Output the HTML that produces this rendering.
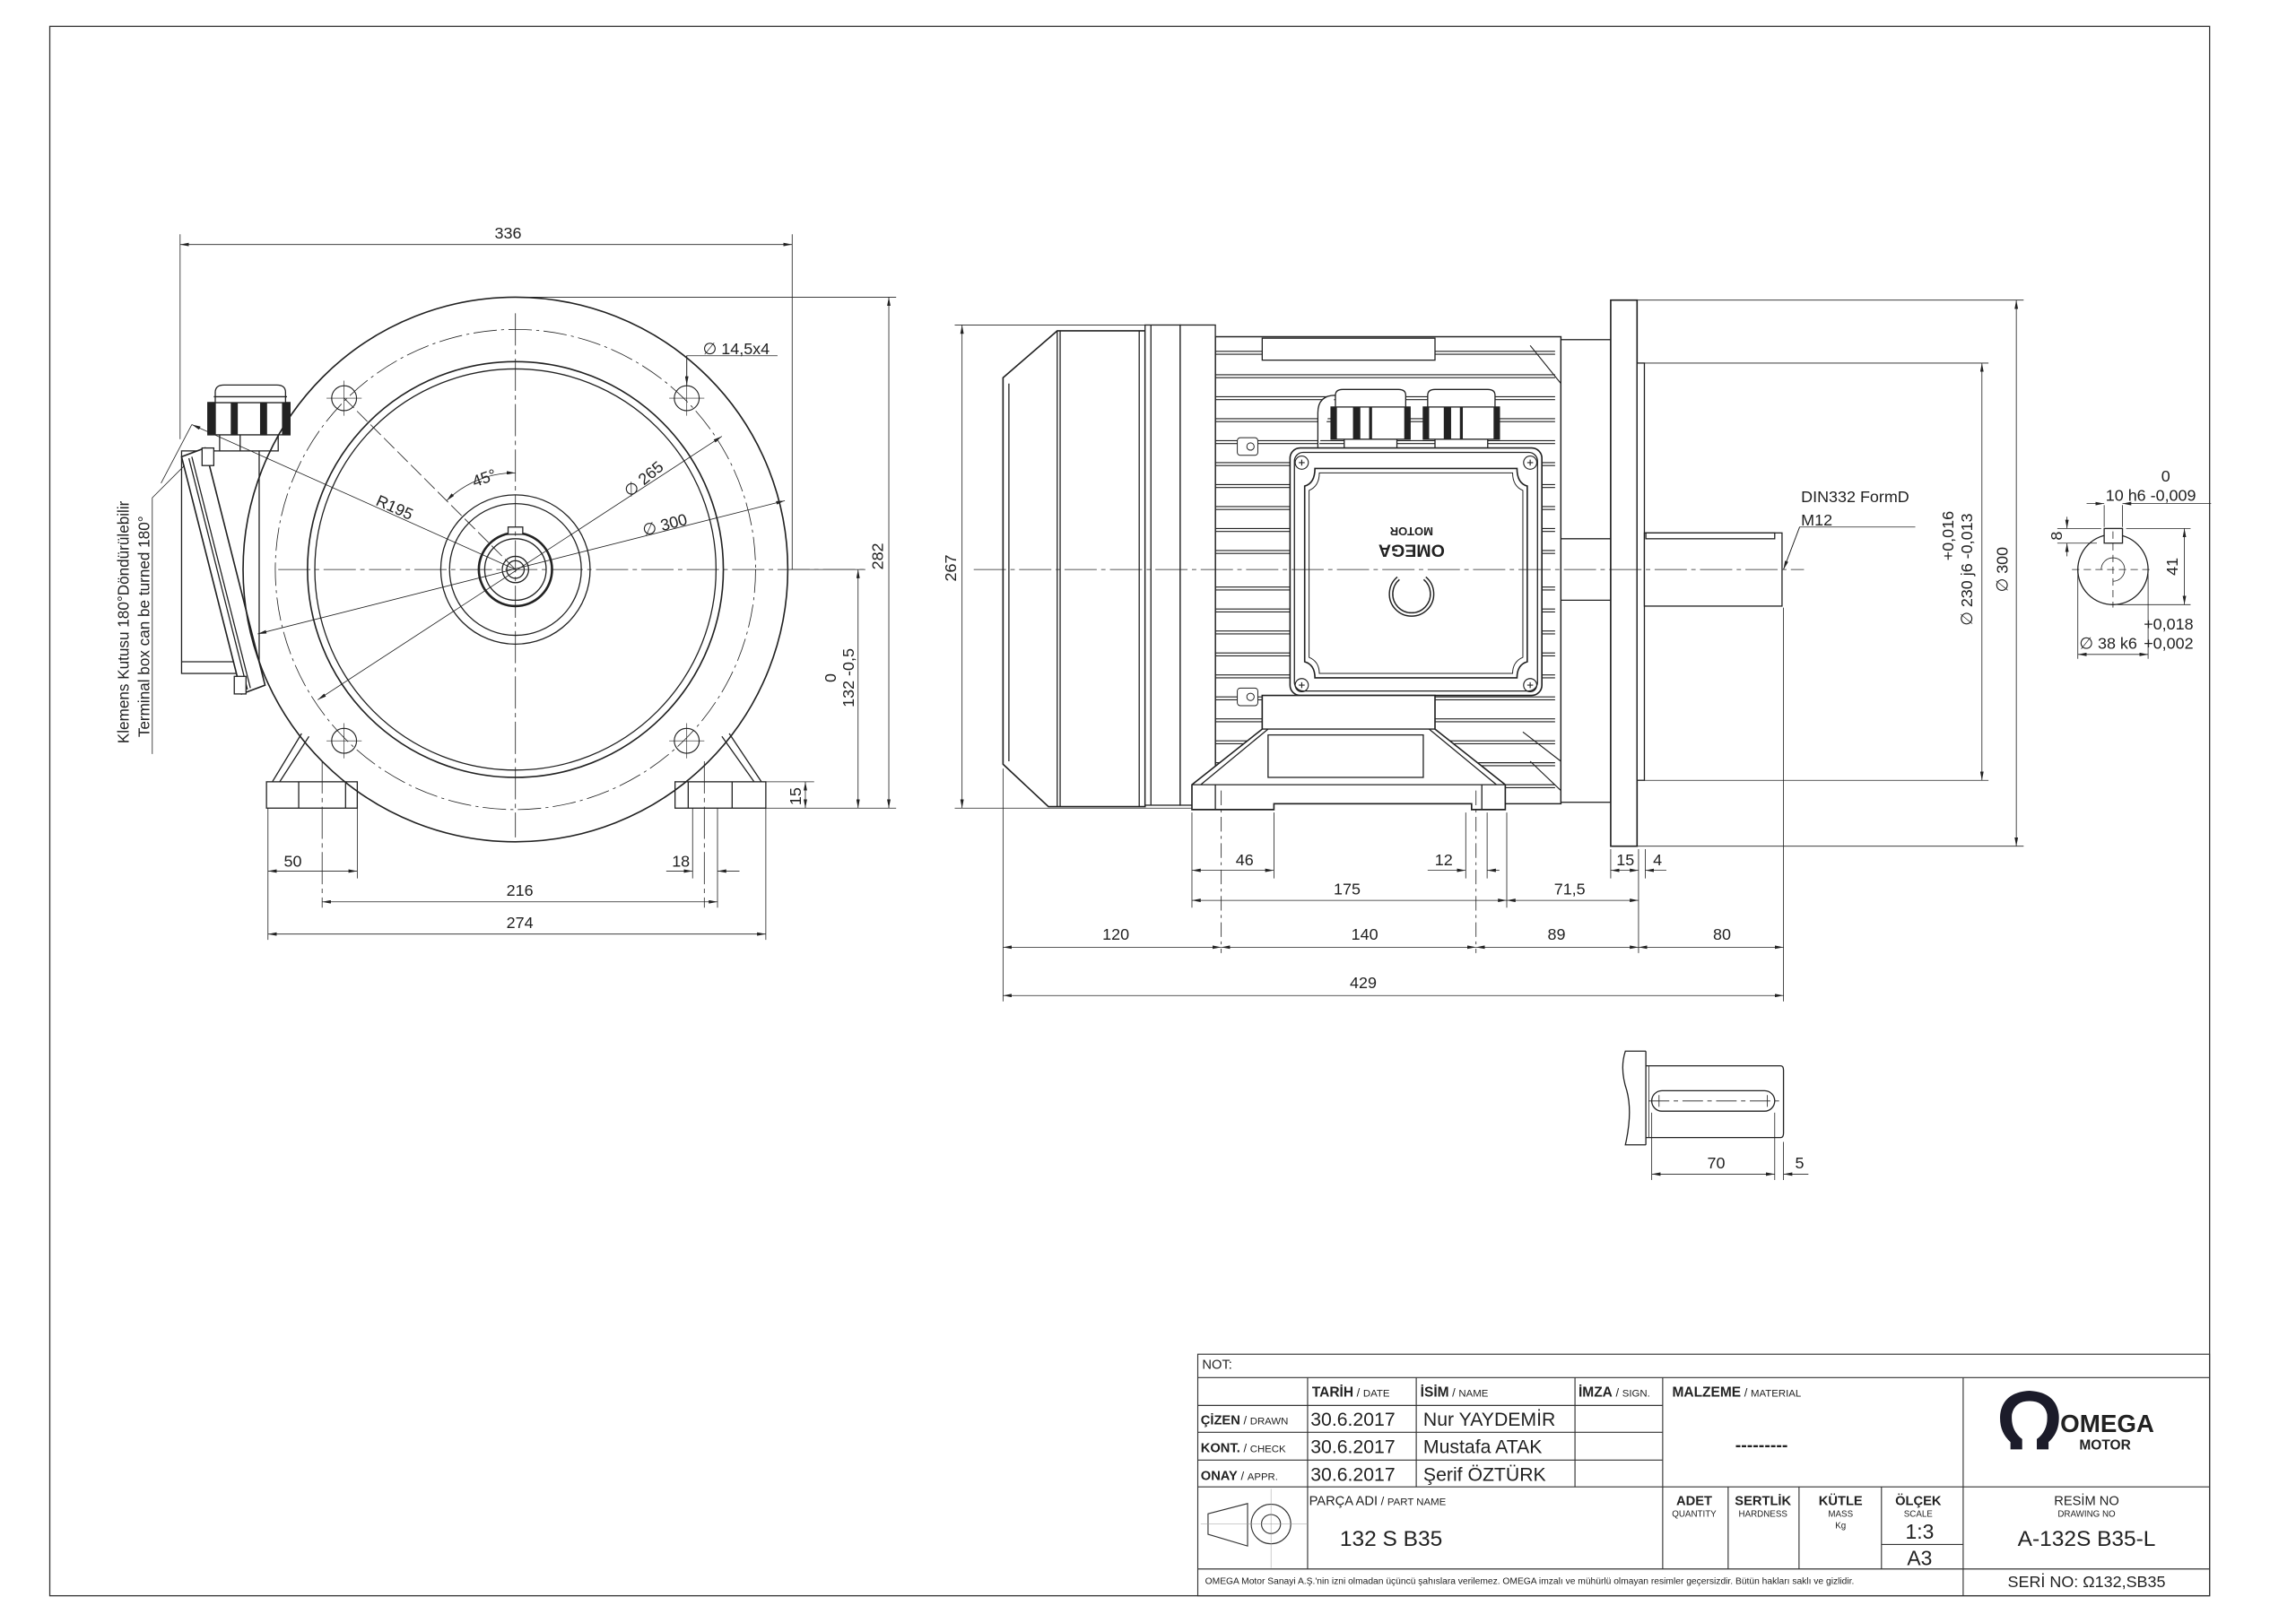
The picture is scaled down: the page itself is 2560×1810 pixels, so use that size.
<!DOCTYPE html>
<html><head><meta charset="utf-8">
<style>
html,body{margin:0;padding:0;background:#fff;}
svg{display:block;}
text{font-family:"Liberation Sans",sans-serif;fill:#222;}
.n{font-family:"Liberation Sans Narrow","Liberation Sans",sans-serif;}
</style></head><body>
<svg width="2560" height="1810" viewBox="0 0 1568 1108.6" preserveAspectRatio="none" xmlns="http://www.w3.org/2000/svg">
<defs>
<marker id="a" viewBox="0 0 10 4" refX="10" refY="2" markerWidth="6" markerHeight="2.4" markerUnits="userSpaceOnUse" orient="auto-start-reverse"><path d="M0,0L10,2L0,4z" fill="#222"/></marker>
</defs>
<rect x="0" y="0" width="1568" height="1108.6" fill="#fff"/>
<rect x="34" y="18" width="1475" height="1072" fill="none" stroke="#333" stroke-width="0.8"/>

<!-- ================= FRONT VIEW ================= -->
<g stroke="#222" fill="none" stroke-width="0.8">
 <path d="M206,501 L186,534" /><path d="M211,503 L191,534"/>
 <rect x="182" y="534" width="62" height="18" fill="#fff"/>
 <line x1="204" y1="534" x2="204" y2="552"/><line x1="236" y1="534" x2="236" y2="552"/>
 <path d="M498,501 L520,534"/><path d="M493,503 L515,534"/>
 <rect x="461" y="534" width="62" height="18" fill="#fff"/>
 <line x1="470" y1="534" x2="470" y2="552"/><line x1="500" y1="534" x2="500" y2="552"/>
 <rect x="124" y="308" width="53" height="152" fill="#fff"/>
 <line x1="124" y1="452" x2="168" y2="452"/>
 <rect x="150" y="297" width="40" height="11" fill="#fff"/>
 <line x1="164" y1="297" x2="164" y2="308"/>
 <rect x="142" y="275" width="56" height="22" fill="#fff"/>
 <rect x="142" y="275" width="5" height="22" fill="#222"/><rect x="193" y="275" width="5" height="22" fill="#222"/>
 <rect x="158" y="275" width="4" height="22" fill="#222"/><rect x="178" y="275" width="4" height="22" fill="#222"/>
 <path d="M147,275 L147,268 Q147,263 153,263 L189,263 Q195,263 195,268 L195,275 Z" fill="#fff"/>
 <line x1="146" y1="271" x2="196" y2="271"/>
 <polygon points="124,312 140,306 181,468 165,474" fill="#fff" stroke-width="1"/>
 <line x1="129" y1="313" x2="169" y2="471"/><line x1="131" y1="312" x2="171" y2="470"/>
 <rect x="138" y="306" width="8" height="12" fill="#fff"/><rect x="160" y="462" width="8" height="12" fill="#fff"/>
 <circle cx="352" cy="389" r="186" stroke-width="1"/>
 <circle cx="352" cy="389" r="164" stroke-width="0.5" stroke-dasharray="16 3 2 3"/>
 <circle cx="352" cy="389" r="142" stroke-width="1"/>
 <circle cx="352" cy="389" r="137"/>
 <circle cx="352" cy="389" r="51"/>
 <circle cx="352" cy="389" r="45"/>
 <circle cx="352" cy="389" r="25" stroke-width="1.6"/>
 <circle cx="352" cy="389" r="21"/>
 <circle cx="352" cy="389" r="9"/>
 <circle cx="352" cy="389" r="6"/>
 <rect x="347" y="360" width="10" height="5" fill="#fff"/>
 <g stroke-width="0.7">
 <circle cx="235" cy="272" r="8.5"/><circle cx="469" cy="272" r="8.5"/>
 <circle cx="235" cy="506" r="8.5"/><circle cx="469" cy="506" r="8.5"/>
 </g>
 <g stroke-width="0.4">
 <path d="M223,272h24M235,260v24M457,272h24M469,260v24M223,506h24M235,494v24M457,506h24M469,494v24"/>
 </g>
 <g stroke-width="0.5" stroke-dasharray="22 3 3 3">
 <line x1="190" y1="389" x2="592" y2="389"/>
 <line x1="352" y1="214" x2="352" y2="572"/>
 <line x1="220" y1="520" x2="220" y2="620"/>
 <line x1="481" y1="520" x2="481" y2="620"/>
 </g>
 <line x1="352" y1="389" x2="235" y2="272" stroke-width="0.5" stroke-dasharray="10 3"/>
 <path d="M305,342 A66,66 0 0 1 352,323" stroke-width="0.5" marker-start="url(#a)" marker-end="url(#a)"/>
</g>
<g stroke="#222" stroke-width="0.5" fill="none">
 <line x1="352" y1="389" x2="131" y2="290" marker-end="url(#a)"/>
 <line x1="131" y1="290" x2="110" y2="330"/>
 <line x1="217" y1="478" x2="493" y2="298" marker-start="url(#a)" marker-end="url(#a)"/>
 <line x1="176" y1="433" x2="536" y2="342" marker-start="url(#a)" marker-end="url(#a)"/>
 <path d="M469,264 L469,243 L531,243"/>
 <line x1="469" y1="243" x2="469" y2="263" marker-end="url(#a)"/>
 <line x1="123" y1="160" x2="123" y2="300"/><line x1="541" y1="160" x2="541" y2="389"/>
 <line x1="123" y1="167" x2="541" y2="167" marker-start="url(#a)" marker-end="url(#a)"/>
 <line x1="352" y1="203" x2="612" y2="203"/><line x1="523" y1="552" x2="612" y2="552"/>
 <line x1="607" y1="203" x2="607" y2="552" marker-start="url(#a)" marker-end="url(#a)"/>
 <line x1="540" y1="389" x2="591" y2="389"/>
 <line x1="586" y1="389" x2="586" y2="552" marker-start="url(#a)" marker-end="url(#a)"/>
 <line x1="523" y1="534" x2="556" y2="534"/>
 <line x1="550" y1="534" x2="550" y2="552" marker-start="url(#a)" marker-end="url(#a)"/>
 <line x1="183" y1="552" x2="183" y2="642"/><line x1="244" y1="552" x2="244" y2="600"/>
 <line x1="473" y1="552" x2="473" y2="600"/><line x1="490" y1="552" x2="490" y2="620"/>
 <line x1="523" y1="552" x2="523" y2="642"/>
 <line x1="183" y1="595" x2="244" y2="595" marker-start="url(#a)" marker-end="url(#a)"/>
 <line x1="455" y1="595" x2="473" y2="595" marker-end="url(#a)"/>
 <line x1="490" y1="595" x2="505" y2="595" marker-start="url(#a)"/>
 <line x1="220" y1="616" x2="490" y2="616" marker-start="url(#a)" marker-end="url(#a)"/>
 <line x1="183" y1="638" x2="523" y2="638" marker-start="url(#a)" marker-end="url(#a)"/>
 <path d="M104,515 L104,340 L126,318"/>
</g>
<g font-size="11">
 <text x="347" y="163" text-anchor="middle">336</text>
 <text x="480" y="242">∅ 14,5x4</text>
 <text x="332" y="330" transform="rotate(-20 332 330)" text-anchor="middle">45°</text>
 <text x="268" y="350" transform="rotate(24 268 350)" text-anchor="middle">R195</text>
 <text x="442" y="330" transform="rotate(-40 442 330)" text-anchor="middle">∅ 265</text>
 <text x="455" y="362" transform="rotate(-15 455 362)" text-anchor="middle">∅ 300</text>
 <text x="603" y="380" transform="rotate(-90 603 380)" text-anchor="middle">282</text>
 <text x="571" y="463" transform="rotate(-90 571 463)" text-anchor="middle">0</text>
 <text x="583" y="463" transform="rotate(-90 583 463)" text-anchor="middle">132 -0,5</text>
 <text x="547" y="544" transform="rotate(-90 547 544)" text-anchor="middle">15</text>
 <text x="200" y="592" text-anchor="middle">50</text>
 <text x="465" y="592" text-anchor="middle">18</text>
 <text x="355" y="612" text-anchor="middle">216</text>
 <text x="355" y="634" text-anchor="middle">274</text>
 <text x="88" y="425" font-size="10.5" transform="rotate(-90 88 425)" text-anchor="middle">Klemens Kutusu 180°Döndürülebilir</text>
 <text x="102" y="428" font-size="10.5" transform="rotate(-90 102 428)" text-anchor="middle">Terminal box can be turned 180°</text>
</g>

<!-- ================= SIDE VIEW ================= -->
<g stroke="#222" fill="none" stroke-width="0.8">
 <g stroke-width="0.7">
  <path d="M830,240h232M830,242h232M830,256h232M830,258h232M830,271h232M830,273h232M830,286h232M830,288h232M830,301h232M830,303h232M830,316h232M830,318h232M830,331h232M830,333h232M830,346h232M830,348h232M830,361h232M830,363h232M830,376h232M830,378h232M830,401h232M830,403h232M830,416h232M830,418h232M830,431h232M830,433h232M830,446h232M830,448h232M830,461h232M830,463h232M830,476h232M830,478h232M830,491h232M830,493h232M830,506h232M830,508h232M830,521h232M830,523h232M830,536h232M830,538h232"/>
 </g>
 <path d="M1045,236 L1066,262 M1045,520 L1066,540 M1040,500 L1066,520" stroke-width="0.7"/>
 <rect x="830" y="230" width="236" height="319" stroke-width="0.9"/>
 <rect x="862" y="231" width="118" height="15" fill="#fff"/>
 <rect x="1066" y="232" width="34" height="316" fill="#fff"/>
 <line x1="1066" y1="368" x2="1100" y2="368"/><line x1="1066" y1="410" x2="1100" y2="410"/>
 <path d="M685,258 L722,226 L782,226 L782,551 L716,551 L685,522 Z" fill="#fff" stroke-width="1"/>
 <line x1="689" y1="262" x2="689" y2="520"/>
 <line x1="722" y1="226" x2="722" y2="551"/><line x1="724" y1="226" x2="724" y2="551"/>
 <line x1="778" y1="226" x2="778" y2="551"/>
 <rect x="782" y="222" width="24" height="328" fill="#fff"/>
 <line x1="786" y1="222" x2="786" y2="550"/>
 <rect x="806" y="222" width="24" height="328" fill="#fff"/>
 <rect x="1100" y="205" width="18" height="373" fill="#fff" stroke-width="1"/>
 <rect x="1118" y="248" width="5" height="285" fill="#fff"/>
 <rect x="1123" y="364" width="94" height="50" fill="#fff"/>
 <rect x="1124" y="364" width="88" height="4" fill="#fff"/>
 <g fill="#fff">
  <path d="M900,306 L900,282 Q900,270 912,270"/>
  <rect x="918" y="300" width="36" height="7"/>
  <rect x="909" y="278" width="54" height="22"/>
  <path d="M912,278 L912,270 Q912,266 917,266 L955,266 Q960,266 960,270 L960,278 Z"/>
  <rect x="980" y="300" width="36" height="7"/>
  <rect x="972" y="278" width="52" height="22"/>
  <path d="M975,278 L975,270 Q975,266 980,266 L1016,266 Q1021,266 1021,270 L1021,278 Z"/>
 </g>
 <g fill="#222" stroke="none">
  <rect x="909" y="278" width="4" height="22"/><rect x="924" y="278" width="5" height="22"/><rect x="935" y="278" width="2" height="22"/><rect x="959" y="278" width="4" height="22"/>
  <rect x="972" y="278" width="4" height="22"/><rect x="986" y="278" width="5" height="22"/><rect x="997" y="278" width="2" height="22"/><rect x="1020" y="278" width="4" height="22"/>
 </g>
 <rect x="881" y="306" width="172" height="169" rx="7" fill="#fff" stroke-width="1"/>
 <rect x="884" y="309" width="166" height="163" rx="6"/>
 <path d="M898,320 L1036,320 Q1036,330 1043,332 L1043,452 Q1036,454 1036,463 L898,463 Q898,454 891,452 L891,332 Q898,330 898,320 Z" stroke-width="1"/>
 <path d="M901,323 L1033,323 Q1033,332 1040,335 L1040,449 Q1033,452 1033,460 L901,460 Q901,452 894,449 L894,335 Q901,332 901,323 Z" stroke-width="0.6"/>
 <g stroke-width="0.7"><circle cx="889" cy="316" r="4.5"/><circle cx="1045" cy="316" r="4.5"/><circle cx="889" cy="468" r="4.5"/><circle cx="1045" cy="468" r="4.5"/>
 <path d="M887,316h4M889,314v4M1043,316h4M1045,314v4M887,468h4M889,466v4M1043,468h4M1045,466v4"/></g>
 <rect x="845" y="299" width="14" height="12" rx="2" fill="#fff" stroke-width="0.6"/><circle cx="854" cy="305" r="2.5" stroke-width="0.6"/>
 <rect x="845" y="470" width="14" height="12" rx="2" fill="#fff" stroke-width="0.6"/><circle cx="854" cy="476" r="2.5" stroke-width="0.6"/>
 <path d="M955,395 A14,14 0 1 0 973,395" stroke-width="3.2" stroke="#222"/>
 <path d="M955,395 A14,14 0 1 0 973,395" stroke-width="1.4" stroke="#fff"/>
 <path d="M862,475 L980,475 L980,498 L1028,536 L1028,553 L1005,553 L1005,549 L870,549 L870,553 L814,553 L814,536 L862,498 Z" fill="#fff" stroke-width="1"/>
 <line x1="862" y1="498" x2="980" y2="498"/><line x1="814" y1="536" x2="1028" y2="536"/>
 <line x1="866" y1="498" x2="820" y2="536"/><line x1="976" y1="498" x2="1022" y2="536"/>
 <rect x="866" y="502" width="106" height="29"/>
 <line x1="830" y1="536" x2="830" y2="553"/><line x1="1012" y1="536" x2="1012" y2="553"/>
</g>
<g font-weight="bold" font-size="10" text-anchor="middle">
 <text x="964" y="380" transform="rotate(180 964 376)" font-size="12">OMEGA</text>
 <text x="964" y="366" transform="rotate(180 964 363)" font-size="8">MOTOR</text>
</g>
<g stroke="#222" stroke-width="0.5" fill="none">
 <line x1="665" y1="389" x2="1232" y2="389" stroke-dasharray="22 3 3 3"/>
 <line x1="834" y1="540" x2="834" y2="651" stroke-dasharray="10 3 2 3"/>
 <line x1="1008" y1="540" x2="1008" y2="651" stroke-dasharray="10 3 2 3"/>
 <line x1="652" y1="222" x2="782" y2="222"/><line x1="652" y1="552" x2="814" y2="552"/>
 <line x1="657" y1="222" x2="657" y2="552" marker-start="url(#a)" marker-end="url(#a)"/>
 <line x1="1123" y1="248" x2="1358" y2="248"/><line x1="1123" y1="533" x2="1358" y2="533"/>
 <line x1="1353.5" y1="248" x2="1353.5" y2="533" marker-start="url(#a)" marker-end="url(#a)"/>
 <line x1="1118" y1="205" x2="1382" y2="205"/><line x1="1118" y1="578" x2="1382" y2="578"/>
 <line x1="1377" y1="205" x2="1377" y2="578" marker-start="url(#a)" marker-end="url(#a)"/>
 <path d="M1308,360 L1229,360 L1218,389"/>
 <line x1="1229" y1="360" x2="1218" y2="389" marker-end="url(#a)"/>
 <line x1="685" y1="525" x2="685" y2="684"/>
 <line x1="814" y1="555" x2="814" y2="620"/>
 <line x1="870" y1="555" x2="870" y2="600"/>
 <line x1="1001" y1="555" x2="1001" y2="600"/><line x1="1015.6" y1="555" x2="1015.6" y2="600"/>
 <line x1="1029" y1="555" x2="1029" y2="620"/>
 <line x1="1100" y1="580" x2="1100" y2="600"/>
 <line x1="1119" y1="580" x2="1119" y2="651"/>
 <line x1="1123.6" y1="580" x2="1123.6" y2="600"/>
 <line x1="1218" y1="415" x2="1218" y2="684"/>
 <line x1="814" y1="594.5" x2="870" y2="594.5" marker-start="url(#a)" marker-end="url(#a)"/>
 <line x1="975" y1="594.5" x2="1001" y2="594.5" marker-end="url(#a)"/>
 <line x1="1015.6" y1="594.5" x2="1024" y2="594.5" marker-start="url(#a)"/>
 <line x1="1100" y1="594.5" x2="1119" y2="594.5" marker-start="url(#a)" marker-end="url(#a)"/>
 <line x1="1123.6" y1="594.5" x2="1138" y2="594.5" marker-start="url(#a)"/>
 <line x1="814" y1="615" x2="1029" y2="615" marker-start="url(#a)" marker-end="url(#a)"/>
 <line x1="1029" y1="615" x2="1119" y2="615" marker-start="url(#a)" marker-end="url(#a)"/>
 <line x1="685" y1="647" x2="834" y2="647" marker-start="url(#a)" marker-end="url(#a)"/>
 <line x1="834" y1="647" x2="1008" y2="647" marker-start="url(#a)" marker-end="url(#a)"/>
 <line x1="1008" y1="647" x2="1119" y2="647" marker-start="url(#a)" marker-end="url(#a)"/>
 <line x1="1119" y1="647" x2="1218" y2="647" marker-start="url(#a)" marker-end="url(#a)"/>
 <line x1="685" y1="680" x2="1218" y2="680" marker-start="url(#a)" marker-end="url(#a)"/>
</g>
<g font-size="11" text-anchor="middle">
 <text x="653" y="388" transform="rotate(-90 653 388)">267</text>
 <text x="1334" y="366" transform="rotate(-90 1334 366)">+0,016</text>
 <text x="1347" y="389" transform="rotate(-90 1347 389)">∅ 230 j6 -0,013</text>
 <text x="1371" y="389" transform="rotate(-90 1371 389)">∅ 300</text>
 <text x="850" y="591">46</text>
 <text x="986" y="591">12</text>
 <text x="1110" y="591">15</text>
 <text x="1132" y="591">4</text>
 <text x="920" y="611">175</text>
 <text x="1072" y="611">71,5</text>
 <text x="762" y="642">120</text>
 <text x="932" y="642">140</text>
 <text x="1063" y="642">89</text>
 <text x="1176" y="642">80</text>
 <text x="931" y="675">429</text>
 <text x="1230" y="343" text-anchor="start">DIN332 FormD</text>
 <text x="1230" y="359" text-anchor="start">M12</text>
</g>

<!-- ================= KEY SECTION ================= -->
<g stroke="#222" fill="none" stroke-width="0.5">
 <circle cx="1443" cy="389" r="24" stroke-width="0.8"/>
 <rect x="1437" y="361" width="12.5" height="10" fill="#fff" stroke-width="0.8"/>
 <path d="M1415,389h56M1443,363v52" stroke-dasharray="5 3"/>
 <path d="M1435,389 A8,8 0 1 1 1443,397"/>
 <line x1="1437" y1="345" x2="1437" y2="360"/><line x1="1449.5" y1="345" x2="1449.5" y2="360"/>
 <line x1="1425" y1="344" x2="1437" y2="344" marker-end="url(#a)"/>
 <line x1="1449.5" y1="344" x2="1510" y2="344" marker-start="url(#a)"/>
 <line x1="1405" y1="361" x2="1435" y2="361"/><line x1="1405" y1="371" x2="1432" y2="371"/>
 <line x1="1411.6" y1="353" x2="1411.6" y2="361" marker-end="url(#a)"/>
 <line x1="1411.6" y1="371" x2="1411.6" y2="380" marker-start="url(#a)"/>
 <line x1="1452" y1="361" x2="1496" y2="361"/><line x1="1446" y1="413" x2="1496" y2="413"/>
 <line x1="1491.8" y1="361" x2="1491.8" y2="413" marker-start="url(#a)" marker-end="url(#a)"/>
 <line x1="1419" y1="389" x2="1419" y2="450"/><line x1="1467" y1="389" x2="1467" y2="450"/>
 <line x1="1419" y1="447" x2="1467" y2="447" marker-start="url(#a)" marker-end="url(#a)"/>
</g>
<g font-size="11">
 <text x="1479" y="329" text-anchor="middle">0</text>
 <text x="1438" y="342">10 h6 -0,009</text>
 <text x="1408" y="366" transform="rotate(-90 1408 366)" text-anchor="middle">8</text>
 <text x="1487" y="387" transform="rotate(-90 1487 387)" text-anchor="middle">41</text>
 <text x="1464" y="430">+0,018</text>
 <text x="1464" y="443">+0,002</text>
 <text x="1420" y="443">∅ 38 k6</text>
</g>

<!-- ================= SHAFT DETAIL ================= -->
<g stroke="#222" fill="none" stroke-width="0.8">
 <path d="M1124,718 L1110,718 Q1106,730 1111,745 Q1115,760 1110,782 L1124,782"/>
 <line x1="1124" y1="718" x2="1124" y2="782"/>
 <path d="M1124,728 L1216,728 Q1218,728 1218,731 L1218,774 Q1218,777 1216,777 L1124,777"/>
 <line x1="1126" y1="728" x2="1126" y2="777" stroke-width="0.5"/>
 <rect x="1128" y="745" width="84" height="14" rx="7"/>
 <line x1="1126" y1="752" x2="1215" y2="752" stroke-width="0.5" stroke-dasharray="14 3 3 3"/>
 <path d="M1133,748v8M1207,748v8" stroke-width="0.5"/>
</g>
<g stroke="#222" stroke-width="0.5" fill="none">
 <line x1="1128" y1="760" x2="1128" y2="806"/><line x1="1212" y1="760" x2="1212" y2="806"/><line x1="1218" y1="780" x2="1218" y2="806"/>
 <line x1="1128" y1="802" x2="1212" y2="802" marker-start="url(#a)" marker-end="url(#a)"/>
 <line x1="1218" y1="802" x2="1235" y2="802" marker-start="url(#a)"/>
</g>
<g font-size="11" text-anchor="middle"><text x="1172" y="798">70</text><text x="1229" y="798">5</text></g>

<!-- ================= TITLE BLOCK ================= -->
<g stroke="#333" fill="none" stroke-width="0.7">
 <rect x="818" y="925" width="691" height="165"/>
 <line x1="818" y1="941" x2="1509" y2="941"/>
 <line x1="818" y1="960" x2="1135.5" y2="960"/>
 <line x1="818" y1="978.3" x2="1135.5" y2="978.3"/>
 <line x1="818" y1="997.3" x2="1135.5" y2="997.3"/>
 <line x1="818" y1="1015.6" x2="1509" y2="1015.6"/>
 <line x1="818" y1="1071.7" x2="1509" y2="1071.7"/>
 <line x1="893" y1="941" x2="893" y2="1071.7"/>
 <line x1="967.2" y1="941" x2="967.2" y2="1015.6"/>
 <line x1="1075.6" y1="941" x2="1075.6" y2="1015.6"/>
 <line x1="1135.5" y1="941" x2="1135.5" y2="1071.7"/>
 <line x1="1340.7" y1="941" x2="1340.7" y2="1090"/>
 <line x1="1180.2" y1="1015.6" x2="1180.2" y2="1071.7"/>
 <line x1="1228.6" y1="1015.6" x2="1228.6" y2="1071.7"/>
 <line x1="1284.9" y1="1015.6" x2="1284.9" y2="1071.7"/>
 <line x1="1284.9" y1="1055" x2="1340.7" y2="1055"/>
 <polygon points="825,1034 852,1027 852,1056 825,1048"/>
 <circle cx="868" cy="1041" r="13.5"/><circle cx="868" cy="1041" r="6.5"/>
 <path d="M820,1041h73M868,1017v54" stroke-width="0.3" stroke="#999"/>
</g>
<g class="n" font-size="8">
 <text x="821" y="935" font-size="9">NOT:</text>
 <text x="896" y="954"><tspan font-weight="bold" font-size="9.5">TARİH</tspan> / <tspan font-size="7">DATE</tspan></text>
 <text x="970" y="954"><tspan font-weight="bold" font-size="9.5">İSİM</tspan> / <tspan font-size="7">NAME</tspan></text>
 <text x="1078" y="954"><tspan font-weight="bold" font-size="9.5">İMZA</tspan> / <tspan font-size="7">SIGN.</tspan></text>
 <text x="1142" y="954"><tspan font-weight="bold" font-size="9.5">MALZEME</tspan> / <tspan font-size="7">MATERIAL</tspan></text>
 <text x="820" y="973"><tspan font-weight="bold" font-size="9">ÇİZEN</tspan> / <tspan font-size="7">DRAWN</tspan></text>
 <text x="820" y="992"><tspan font-weight="bold" font-size="9">KONT.</tspan> / <tspan font-size="7">CHECK</tspan></text>
 <text x="820" y="1011"><tspan font-weight="bold" font-size="9">ONAY</tspan> / <tspan font-size="7">APPR.</tspan></text>
 <g font-size="13"><text x="895" y="974">30.6.2017</text><text x="895" y="992.5">30.6.2017</text><text x="895" y="1011.5">30.6.2017</text>
 <text x="972" y="974">Nur YAYDEMİR</text><text x="972" y="992.5">Mustafa ATAK</text><text x="972" y="1011.5">Şerif ÖZTÜRK</text></g>
 <text x="1203" y="991" font-size="12" font-weight="bold" text-anchor="middle">---------</text>
 <text x="894" y="1028"><tspan font-size="9">PARÇA ADI</tspan> / <tspan font-size="7">PART NAME</tspan></text>
 <text x="915" y="1056" font-size="15">132 S B35</text>
 <g text-anchor="middle">
  <text x="1157" y="1028" font-weight="bold" font-size="9">ADET</text><text x="1157" y="1036" font-size="6">QUANTITY</text>
  <text x="1204" y="1028" font-weight="bold" font-size="9">SERTLİK</text><text x="1204" y="1036" font-size="6">HARDNESS</text>
  <text x="1257" y="1028" font-weight="bold" font-size="9">KÜTLE</text><text x="1257" y="1036" font-size="6">MASS</text><text x="1257" y="1044" font-size="6">Kg</text>
  <text x="1310" y="1028" font-weight="bold" font-size="9">ÖLÇEK</text><text x="1310" y="1036" font-size="6">SCALE</text>
  <text x="1311" y="1051" font-size="14">1:3</text><text x="1311" y="1069" font-size="14">A3</text>
  <text x="1425" y="1028" font-size="9">RESİM NO</text><text x="1425" y="1036" font-size="6">DRAWING NO</text>
  <text x="1425" y="1056" font-size="15">A-132S B35-L</text>
  <text x="1425" y="1084" font-size="11" fill="#444">SERİ NO: Ω132,SB35</text>
 </g>
 <text x="823" y="1082" font-size="6.3">OMEGA Motor Sanayi A.Ş.'nin izni olmadan üçüncü şahıslara verilemez. OMEGA imzalı ve mühürlü olmayan resimler geçersizdir. Bütün hakları saklı ve gizlidir.</text>
</g>
<g>
 <path d="M1373,990 L1373,985 Q1365,978 1366,966 Q1368,951 1386,950 Q1404,951 1406,966 Q1407,978 1399,985 L1399,990 L1391,990 L1391,983 Q1399,977 1398,966 Q1396,957 1386,957 Q1376,957 1374,966 Q1373,977 1381,983 L1381,990 Z" fill="#1c1c2a"/>
 <text x="1407" y="978" font-family="Liberation Sans" font-weight="bold" font-size="17" fill="#1c1c2a">OMEGA</text>
 <text x="1420" y="990" font-family="Liberation Sans" font-weight="bold" font-size="9.5" fill="#1c1c2a">MOTOR</text>
</g>
</svg>
</body></html>
